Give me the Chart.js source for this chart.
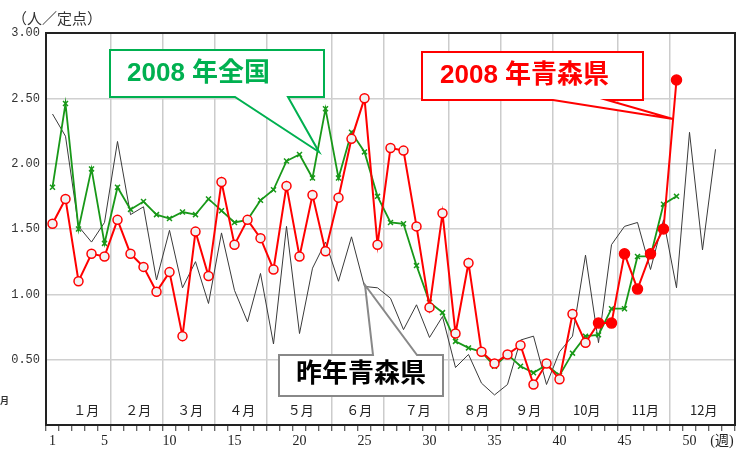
<!DOCTYPE html>
<html>
<head>
<meta charset="utf-8">
<script src="https://cdn.jsdelivr.net/npm/chart.js@4"></script>
<style>
  html, body { margin: 0; padding: 0; background: #fff; }
  canvas { display: block; }
</style>
</head>
<body>
<canvas id="chart" width="747" height="450"></canvas>
<script>
// 2008年 青森県（定点当たり報告数）
const aomori2008 = [1.54, 1.73, 1.10, 1.31, 1.29, 1.57, 1.31, 1.21, 1.02, 1.17, 0.68, 1.48, 1.14, 1.86, 1.38,
    1.57, 1.43, 1.19, 1.83, 1.29, 1.76, 1.33, 1.74, 2.19, 2.50, 1.38, 2.12, 2.10, 1.52, 0.90, 1.62, 0.70, 1.24,
    0.56, 0.47, 0.54, 0.61, 0.31, 0.47, 0.35, 0.85, 0.63, 0.78, 0.78, 1.31, 1.04, 1.31, 1.50, 2.64];
const aomoriFilledFrom = 43; // この週から塗りつぶしマーカー

// 2008年 全国
const national2008 = [1.82, 2.46, 1.50, 1.96, 1.39, 1.82, 1.65, 1.71, 1.61, 1.58, 1.63, 1.61, 1.73, 1.64, 1.55,
    1.57, 1.72, 1.80, 2.02, 2.07, 1.89, 2.42, 1.89, 2.24, 2.09, 1.75, 1.55, 1.54, 1.22, 0.94, 0.86, 0.64, 0.59,
    0.56, 0.45, 0.54, 0.45, 0.40, 0.46, 0.38, 0.55, 0.68, 0.69, 0.89, 0.89, 1.29, 1.29, 1.69, 1.75];

// 昨年 青森県
const lastYearAomori = [2.38, 2.21, 1.52, 1.40, 1.55, 2.17, 1.61, 1.67, 1.11, 1.49, 1.05, 1.25, 0.93, 1.47, 1.03,
    0.79, 1.16, 0.62, 1.52, 0.70, 1.20, 1.40, 1.10, 1.44, 1.06, 1.05, 0.97, 0.73, 0.92, 0.67, 0.83, 0.44, 0.54,
    0.32, 0.23, 0.31, 0.65, 0.68, 0.31, 0.56, 0.68, 1.30, 0.63, 1.38, 1.52, 1.55, 1.19, 1.57, 1.05, 2.24, 1.34, 2.11];

const weekLabels = [1, 5, 10, 15, 20, 25, 30, 35, 40, 45, 50];
const monthNames = ['１月', '２月', '３月', '４月', '５月', '６月', '７月', '８月', '９月', '10月', '11月', '12月'];
const monthBounds = [0.5, 5.5, 9.5, 13.5, 17.5, 22.5, 26.5, 31.5, 35.5, 39.5, 44.5, 48.5, 53.5];

function toPoints(arr) {
    return arr.map((v, i) => ({ x: i + 1, y: v }));
}

const overlay = {
    id: 'overlay',
    beforeDatasetsDraw(chart) {
        const { ctx, chartArea: a, scales: { x } } = chart;
        ctx.save();
        ctx.font = '13px "Noto Sans CJK JP"';
        ctx.fillStyle = '#222';
        ctx.textAlign = 'center';
        ctx.textBaseline = 'middle';
        monthNames.forEach((m, i) => {
            const c = (monthBounds[i] + monthBounds[i + 1]) / 2 + (i === 0 ? 0.6 : 0.1);
            ctx.fillText(m, x.getPixelForValue(c), a.bottom - 15);
        });
        ctx.restore();
    },
    afterDraw(chart) {
        const { ctx, chartArea: a } = chart;
        ctx.save();
        // frame
        ctx.strokeStyle = '#222';
        ctx.lineWidth = 2;
        ctx.strokeRect(a.left, a.top, a.right - a.left, a.bottom - a.top);

        // unit label
        ctx.fillStyle = '#333';
        ctx.font = '15px "Noto Sans CJK JP"';
        ctx.textBaseline = 'middle';
        ctx.fillText('（人／定点）', 12, 18);
        ctx.font = 'bold 9px "Noto Sans CJK JP"';
        ctx.fillText('月', 0, 401);

        // callouts
        function callout(pts, stroke, text, color, tx, ty) {
            ctx.beginPath();
            ctx.moveTo(pts[0][0], pts[0][1]);
            pts.slice(1).forEach(p => ctx.lineTo(p[0], p[1]));
            ctx.closePath();
            ctx.fillStyle = '#fff';
            ctx.fill();
            ctx.strokeStyle = stroke;
            ctx.lineWidth = 2;
            ctx.lineJoin = 'miter';
            ctx.stroke();
            ctx.fillStyle = color;
            ctx.font = 'bold 26px "Liberation Sans", "Noto Sans CJK JP"';
            ctx.textAlign = 'left';
            ctx.textBaseline = 'middle';
            ctx.fillText(text, tx, ty);
        }
        callout([[110, 50], [324, 50], [324, 97], [288, 97], [319, 152], [235, 97], [110, 97]],
            '#00b050', '2008 年全国', '#00b050', 127, 74);
        callout([[422, 52], [643, 52], [643, 100], [607, 100], [673, 119], [553, 100], [422, 100]],
            '#ff0000', '2008 年青森県', '#ff0000', 440, 76);
        callout([[279, 355], [373, 355], [365, 285], [417, 355], [443, 355], [443, 396], [279, 396]],
            '#888', '昨年青森県', '#000', 296, 375);
        ctx.restore();
    }
};

const ctx = document.getElementById('chart').getContext('2d');
new Chart(ctx, {
    type: 'line',
    data: {
        datasets: [
            {
                label: '2008年青森県',
                data: toPoints(aomori2008),
                borderColor: '#ff0000',
                borderWidth: 2,
                pointStyle: 'circle',
                pointRadius: ctx => ctx.raw && ctx.raw.x >= aomoriFilledFrom ? 5 : 4.5,
                pointBorderWidth: 1.5,
                pointBackgroundColor: ctx => ctx.raw && ctx.raw.x >= aomoriFilledFrom ? '#ff0000' : '#f2f2f2',
                pointBorderColor: '#ff0000',
                tension: 0
            },
            {
                label: '2008年全国',
                data: toPoints(national2008),
                borderColor: '#189818',
                borderWidth: 1.8,
                pointStyle: 'crossRot',
                pointRadius: 3.5,
                pointBorderWidth: 1.5,
                pointBorderColor: '#189818',
                tension: 0
            },
            {
                label: '昨年青森県',
                data: toPoints(lastYearAomori),
                borderColor: '#3a3a3a',
                borderWidth: 1,
                pointRadius: 0,
                tension: 0
            }
        ]
    },
    options: {
        responsive: false,
        animation: false,
        devicePixelRatio: 1,
        layout: { padding: { top: 33, right: 12, left: 0, bottom: 0 } },
        plugins: {
            legend: { display: false },
            tooltip: { enabled: false }
        },
        scales: {
            x: {
                type: 'linear',
                min: 0.5,
                max: 53.5,
                afterFit(scale) { scale.height = 25; },
                afterBuildTicks(scale) {
                    const t = [];
                    for (let v = 0.5; v <= 53.5; v += 1) t.push({ value: v });
                    weekLabels.forEach(w => t.push({ value: w }));
                    t.sort((p, q) => p.value - q.value);
                    scale.ticks = t;
                },
                ticks: {
                    autoSkip: false,
                    maxRotation: 0,
                    padding: 2,
                    color: '#222',
                    font: { family: '"Liberation Serif", "Noto Sans CJK JP"', size: 14 },
                    callback: v => weekLabels.includes(v) ? String(v) : (v === 52.5 ? '(週)' : '')
                },
                grid: {
                    drawOnChartArea: true,
                    tickLength: 6,
                    lineWidth: 1.5,
                    color: c => monthBounds.slice(1, -1).includes(c.tick.value) ? '#cccccc' : 'rgba(0,0,0,0)',
                    tickColor: c => Number.isInteger(c.tick.value) ? 'rgba(0,0,0,0)' : '#333',
                    tickWidth: 1
                },
                border: { display: false }
            },
            y: {
                min: 0,
                max: 3,
                afterFit(scale) { scale.width = 46; },
                ticks: {
                    stepSize: 0.5,
                    padding: 6,
                    color: '#333',
                    font: { family: '"Liberation Mono"', size: 12 },
                    callback: v => v === 0 ? '' : v.toFixed(2)
                },
                grid: {
                    drawTicks: false,
                    lineWidth: 1.5,
                    color: '#d0d0d0'
                },
                border: { display: false }
            }
        }
    },
    plugins: [overlay]
});
</script>
</body>
</html>
